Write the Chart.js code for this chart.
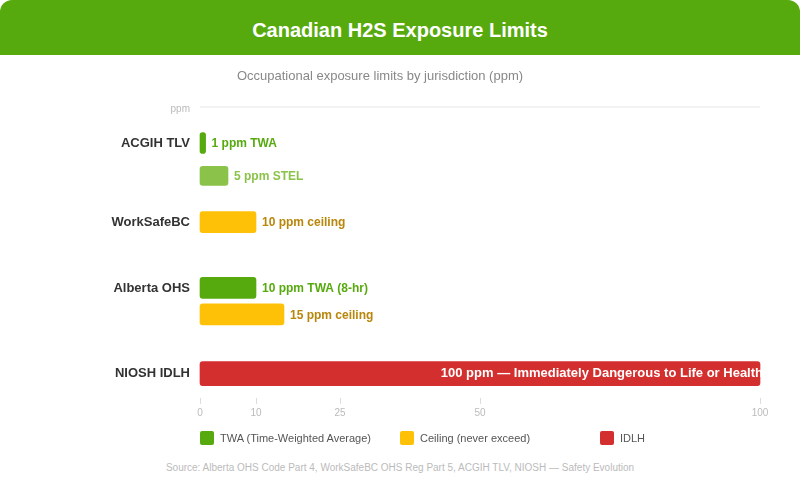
<!DOCTYPE html>
<html lang="en">
<head>
    <meta charset="UTF-8">
    <title>Canadian H2S Exposure Limits</title>
    <script src="https://cdn.jsdelivr.net/npm/chart.js"></script>
    <style>
        body {
            margin: 0;
            background-color: white;
            font-family: "Liberation Sans", Arial, sans-serif;
        }
        #card {
            position: relative;
            width: 800px;
            height: 480px;
            overflow: hidden;
        }
        #header {
            height: 55px;
            background-color: #57aa0e;
            border-radius: 12px 12px 0 0;
            color: white;
            font-weight: bold;
            font-size: 20px;
            text-align: center;
            line-height: 60px;
        }
        #chartBox {
            position: absolute;
            top: 55px;
            left: 0;
            width: 800px;
            height: 401px;
        }
        .legendItem {
            position: absolute;
            top: 431px;
            font-size: 11px;
            color: #555;
            line-height: 14px;
        }
        .legendItem span {
            display: inline-block;
            width: 14px;
            height: 14px;
            border-radius: 2px;
            vertical-align: top;
            margin-right: 6px;
        }
        #source {
            position: absolute;
            top: 462px;
            width: 800px;
            text-align: center;
            font-size: 10px;
            color: #bbb;
        }
    </style>
</head>
<body>

<div id="card">
    <div id="header">Canadian H2S Exposure Limits</div>
    <div id="chartBox">
        <canvas id="limitsChart"></canvas>
    </div>
    <div class="legendItem" style="left:200px;"><span style="background:#57aa0e;"></span>TWA (Time-Weighted Average)</div>
    <div class="legendItem" style="left:400px;"><span style="background:#ffc107;"></span>Ceiling (never exceed)</div>
    <div class="legendItem" style="left:600px;"><span style="background:#d32f2f;"></span>IDLH</div>
    <div id="source">Source: Alberta OHS Code Part 4, WorkSafeBC OHS Reg Part 5, ACGIH TLV, NIOSH — Safety Evolution</div>
</div>

<script>
    // thin row slots, empty strings are spacer rows
    const rows = [
        'ACGIH TLV', '', '', '', '', '', '', '', '', '', '', '',
        'WorkSafeBC', '', '', '', '', '', '', '', '', '', 'Alberta OHS', '',
        '', '', '', '', '', '', '', '', '', '', '', 'NIOSH IDLH'
    ];

    const twaValues = [
        1, null, null, null, null, null, null, null, null, null, null, null,
        null, null, null, null, null, null, null, null, null, null, 10, null,
        null, null, null, null, null, null, null, null, null, null, null, null
    ];
    const stelValues = [
        null, null, null, null, null, 5, null, null, null, null, null, null,
        null, null, null, null, null, null, null, null, null, null, null, null,
        null, null, null, null, null, null, null, null, null, null, null, null
    ];
    const ceilingValues = [
        null, null, null, null, null, null, null, null, null, null, null, null,
        10, null, null, null, null, null, null, null, null, null, null, null,
        null, null, 15, null, null, null, null, null, null, null, null, null
    ];
    const idlhValues = [
        null, null, null, null, null, null, null, null, null, null, null, null,
        null, null, null, null, null, null, null, null, null, null, null, null,
        null, null, null, null, null, null, null, null, null, null, null, 100
    ];

    const twaLabels = { 0: '1 ppm TWA', 22: '10 ppm TWA (8-hr)' };
    const stelLabels = { 5: '5 ppm STEL' };
    const ceilingLabels = { 12: '10 ppm ceiling', 26: '15 ppm ceiling' };
    const idlhLabels = { 35: '100 ppm — Immediately Dangerous to Life or Health' };

    const axisTicks = [0, 10, 25, 50, 100];

    const barLabelPlugin = {
        id: 'barLabels',
        afterDatasetsDraw(chart) {
            const ctx = chart.ctx;
            ctx.save();
            ctx.textBaseline = 'middle';
            chart.data.datasets.forEach((ds, di) => {
                const meta = chart.getDatasetMeta(di);
                meta.data.forEach((bar, i) => {
                    const text = ds.barLabels[i];
                    if (!text) return;
                    if (ds.labelInside) {
                        ctx.font = 'bold 13px "Liberation Sans", Arial, sans-serif';
                        ctx.fillStyle = 'white';
                        ctx.textAlign = 'right';
                        ctx.fillText(text, bar.x + 3, bar.y);
                    } else {
                        ctx.font = 'bold 12px "Liberation Sans", Arial, sans-serif';
                        ctx.fillStyle = ds.labelColor;
                        ctx.textAlign = 'left';
                        ctx.fillText(text, bar.x + 6, bar.y + 1);
                    }
                });
            });
            ctx.restore();
        }
    };

    const axisDecorPlugin = {
        id: 'axisDecor',
        afterDraw(chart) {
            const ctx = chart.ctx;
            const area = chart.chartArea;
            const x = chart.scales.x;
            ctx.save();
            // top "ppm" rule
            const topY = area.top - 32.7;
            ctx.strokeStyle = '#eeeeee';
            ctx.lineWidth = 1.5;
            ctx.beginPath();
            ctx.moveTo(area.left, topY);
            ctx.lineTo(area.right, topY);
            ctx.stroke();
            ctx.font = '10px "Liberation Sans", Arial, sans-serif';
            ctx.fillStyle = '#bbb';
            ctx.textAlign = 'right';
            ctx.textBaseline = 'middle';
            ctx.fillText('ppm', area.left - 10, topY + 2);
            // small tick marks under the bars
            ctx.strokeStyle = '#dddddd';
            ctx.lineWidth = 1;
            axisTicks.forEach(v => {
                const px = Math.round(x.getPixelForValue(v)) + 0.5;
                ctx.beginPath();
                ctx.moveTo(px, area.bottom + 21);
                ctx.lineTo(px, area.bottom + 27);
                ctx.stroke();
            });
            ctx.restore();
        }
    };

    const ctx1 = document.getElementById('limitsChart').getContext('2d');
    const chart = new Chart(ctx1, {
        type: 'bar',
        data: {
            labels: rows,
            datasets: [
                {
                    label: 'TWA',
                    data: twaValues,
                    backgroundColor: '#57aa0e',
                    barThickness: 21,
                    barLabels: twaLabels,
                    labelColor: '#57aa0e'
                },
                {
                    label: 'STEL',
                    data: stelValues,
                    backgroundColor: '#8bc34a',
                    barThickness: 19,
                    barLabels: stelLabels,
                    labelColor: '#8bc34a'
                },
                {
                    label: 'Ceiling',
                    data: ceilingValues,
                    backgroundColor: '#ffc107',
                    barThickness: 21,
                    barLabels: ceilingLabels,
                    labelColor: '#b8860b'
                },
                {
                    label: 'IDLH',
                    data: idlhValues,
                    backgroundColor: '#d32f2f',
                    barThickness: 24,
                    barLabels: idlhLabels,
                    labelInside: true
                }
            ]
        },
        options: {
            indexAxis: 'y',
            responsive: true,
            maintainAspectRatio: false,
            animation: false,
            datasets: {
                bar: { borderRadius: 3, borderSkipped: false, clip: false }
            },
            layout: { padding: { left: 0, right: 40, top: 0, bottom: 5.7 } },
            plugins: {
                legend: { display: false },
                tooltip: { enabled: false },
                title: {
                    display: true,
                    text: 'Occupational exposure limits by jurisdiction (ppm)',
                    color: '#888',
                    font: { family: '"Liberation Sans", Arial, sans-serif', size: 13, weight: 'normal' },
                    padding: { top: 14, bottom: 55.1 }
                }
            },
            scales: {
                x: {
                    type: 'linear',
                    min: 0,
                    max: 100,
                    stacked: true,
                    afterBuildTicks: scale => {
                        scale.ticks = axisTicks.map(v => ({ value: v }));
                    },
                    grid: { display: false, drawTicks: false },
                    border: { display: false },
                    ticks: {
                        color: '#bbb',
                        padding: 30.7,
                        maxRotation: 0,
                        autoSkip: false,
                        font: { family: '"Liberation Sans", Arial, sans-serif', size: 10 }
                    }
                },
                y: {
                    stacked: true,
                    afterFit: scale => { scale.width = 200; },
                    grid: { display: false, drawTicks: false },
                    border: { display: false },
                    ticks: {
                        color: '#333',
                        padding: 10,
                        autoSkip: false,
                        font: { family: '"Liberation Sans", Arial, sans-serif', size: 13, weight: 'bold' }
                    }
                }
            }
        },
        plugins: [barLabelPlugin, axisDecorPlugin]
    });
</script>

</body>
</html>
